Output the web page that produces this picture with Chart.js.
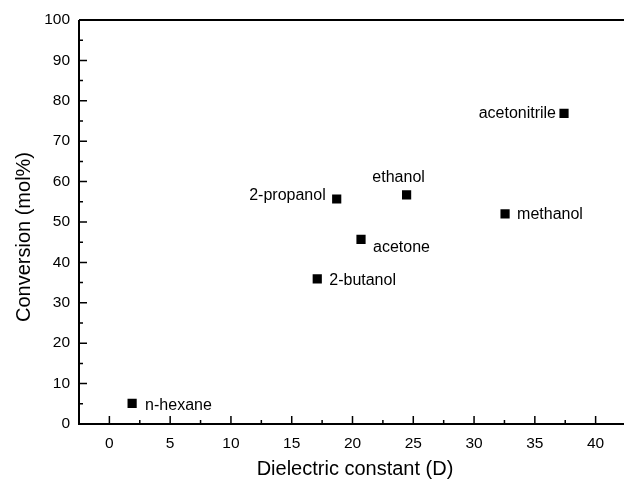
<!DOCTYPE html>
<html>
<head>
<meta charset="utf-8">
<script src="https://cdn.jsdelivr.net/npm/chart.js@4/dist/chart.umd.min.js"></script>
<style>
  html, body { margin: 0; padding: 0; background: #fff; }
  #wrap { width: 624px; height: 481px; }
</style>
</head>
<body>
<div id="wrap"><canvas id="c"></canvas></div>
<script>
const solvents = ['n-hexane', '2-butanol', '2-propanol', 'acetone', 'ethanol', 'methanol', 'acetonitrile'];
const dielectric = [1.87, 17.1, 18.7, 20.7, 24.45, 32.55, 37.4];
const conversion = [5.1, 35.9, 55.7, 45.7, 56.7, 52.0, 76.9];
const xTicks = [0, 5, 10, 15, 20, 25, 30, 35, 40];
const yTicks = [0, 10, 20, 30, 40, 50, 60, 70, 80, 90, 100];
const xTitle = 'Dielectric constant (D)';
const yTitle = 'Conversion (mol%)';

// text alignment and offset of each label from its point
const labelPos = {
  'n-hexane': ['left', 13, 2],
  '2-butanol': ['left', 12, 2],
  '2-propanol': ['right', -11, -3],
  'acetone': ['left', 12, 8],
  'ethanol': ['center', -8, -17],
  'methanol': ['left', 12, 1],
  'acetonitrile': ['right', -8, 0]
};

const FONT = '"Liberation Sans", Arial, sans-serif';

const frame = {
  id: 'frame',
  afterDraw(chart) {
    const ctx = chart.ctx, a = chart.chartArea;
    const x = chart.scales.x, y = chart.scales.y;
    ctx.save();
    ctx.strokeStyle = '#000';
    ctx.lineWidth = 2;
    ctx.beginPath();
    ctx.moveTo(a.left, a.top); ctx.lineTo(a.left, a.bottom); ctx.lineTo(chart.width, a.bottom);
    ctx.moveTo(a.left, a.top); ctx.lineTo(chart.width, a.top);
    ctx.stroke();
    ctx.lineWidth = 1.5;
    ctx.beginPath();
    for (let v = -2.5; v <= 42; v += 2.5) {
      const px = x.getPixelForValue(v);
      if (px <= a.left + 1 || px > chart.width) continue;
      const len = v % 5 === 0 ? 8 : 4;
      ctx.moveTo(px, a.bottom); ctx.lineTo(px, a.bottom - len);
    }
    for (let v = 0; v <= 100; v += 5) {
      const py = y.getPixelForValue(v);
      const len = v % 10 === 0 ? 8 : 4;
      ctx.moveTo(a.left, py); ctx.lineTo(a.left + len, py);
    }
    ctx.stroke();
    ctx.fillStyle = '#000';
    ctx.font = '16px ' + FONT;
    ctx.textBaseline = 'middle';
    solvents.forEach((s, i) => {
      const p = labelPos[s];
      ctx.textAlign = p[0];
      ctx.fillText(s, x.getPixelForValue(dielectric[i]) + p[1], y.getPixelForValue(conversion[i]) + p[2]);
    });
    // axis titles
    ctx.font = '20px ' + FONT;
    ctx.textAlign = 'center';
    ctx.fillText(xTitle, 355, 469);
    ctx.translate(24, 237);
    ctx.rotate(-Math.PI / 2);
    ctx.fillText(yTitle, 0, 0);
    ctx.restore();
  }
};

new Chart(document.getElementById('c'), {
  type: 'scatter',
  data: {
    datasets: [{
      data: dielectric.map((d, i) => ({ x: d, y: conversion[i] })),
      pointStyle: 'rect',
      pointRadius: 6.5,
      pointHoverRadius: 6.5,
      backgroundColor: '#000',
      borderColor: '#000',
      borderWidth: 0
    }]
  },
  options: {
    responsive: true,
    maintainAspectRatio: false,
    animation: false,
    layout: { padding: { top: 20, right: 0, left: 0, bottom: 0 } },
    plugins: { legend: { display: false }, tooltip: { enabled: false } },
    scales: {
      x: {
        type: 'linear',
        min: -2.5,
        max: 41.8,
        afterBuildTicks: s => { s.ticks = xTicks.map(v => ({ value: v })); },
        afterFit: s => { s.height = 57; },
        grid: { display: false, drawTicks: false },
        border: { display: false },
        ticks: { color: '#000', font: { size: 15.5, family: FONT }, padding: 10, maxRotation: 0 }
      },
      y: {
        min: 0,
        max: 100,
        afterBuildTicks: s => { s.ticks = yTicks.map(v => ({ value: v })); },
        afterFit: s => { s.width = 79; },
        grid: { display: false, drawTicks: false },
        border: { display: false },
        ticks: { color: '#000', font: { size: 15.5, family: FONT }, padding: 9 }
      }
    }
  },
  plugins: [frame]
});
</script>
</body>
</html>
